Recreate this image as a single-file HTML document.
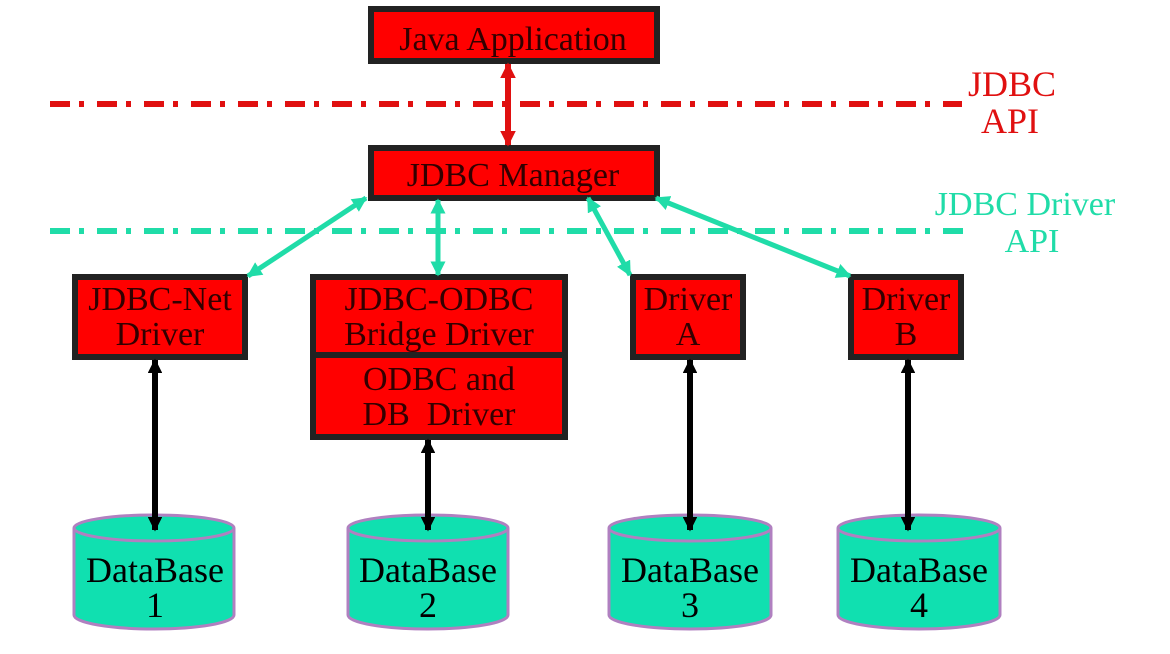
<!DOCTYPE html>
<html><head><meta charset="utf-8"><style>
html,body{margin:0;padding:0;background:#fff;}
svg{display:block;}
</style></head><body>
<svg width="1170" height="654" viewBox="0 0 1170 654" xmlns="http://www.w3.org/2000/svg" font-family="'Liberation Serif', 'DejaVu Serif', 'Times New Roman', serif">
<defs>
<marker id="ar" viewBox="0 0 10 10" refX="9" refY="5" markerWidth="2.6" markerHeight="2.6" orient="auto-start-reverse"><path d="M0,0 L10,5 L0,10 z" fill="#e01010"/></marker>
<marker id="ag" viewBox="0 0 10 10" refX="9" refY="5" markerWidth="3" markerHeight="3" orient="auto-start-reverse"><path d="M0,0 L10,5 L0,10 z" fill="#20dca8"/></marker>
<marker id="ab" viewBox="0 0 10 10" refX="9" refY="5" markerWidth="2.4" markerHeight="2.4" orient="auto-start-reverse"><path d="M0,0 L10,5 L0,10 z" fill="#000"/></marker>
</defs>
<line x1="50" y1="104" x2="962" y2="104" stroke="#e01010" stroke-width="6" stroke-dasharray="20 9 5 13"/>
<line x1="50" y1="231" x2="965" y2="231" stroke="#20dca8" stroke-width="6" stroke-dasharray="20 9 5 13"/>
<text x="1012" y="96" font-size="36" fill="#e01010" text-anchor="middle">JDBC</text>
<text x="1010" y="133" font-size="36" fill="#e01010" text-anchor="middle">API</text>
<text x="1025" y="215" font-size="34" fill="#20dca8" text-anchor="middle">JDBC Driver</text>
<text x="1032" y="252" font-size="34" fill="#20dca8" text-anchor="middle">API</text>
<g fill="#ff0000" stroke="#222" stroke-width="6">
<rect x="371" y="9" width="286" height="52"/>
<rect x="371" y="148" width="286" height="50"/>
<rect x="75" y="277" width="170" height="80"/>
<rect x="313" y="277" width="252" height="160"/>
<rect x="633" y="277" width="110" height="80"/>
<rect x="851" y="277" width="110" height="80"/>
</g>
<line x1="313" y1="355" x2="565" y2="355" stroke="#222" stroke-width="6"/>
<g font-size="34" fill="#300" text-anchor="middle">
<text x="513" y="50">Java Application</text>
<text x="513" y="186">JDBC Manager</text>
<text x="160" y="310">JDBC-Net</text>
<text x="160" y="345">Driver</text>
<text x="439" y="310">JDBC-ODBC</text>
<text x="439" y="345">Bridge Driver</text>
<text x="439" y="390">ODBC and</text>
<text x="439" y="425" xml:space="preserve">DB  Driver</text>
<text x="688" y="310">Driver</text>
<text x="688" y="345">A</text>
<text x="906" y="310">Driver</text>
<text x="906" y="345">B</text>
</g>
<g fill="#10e0b0" stroke="#b080c0" stroke-width="3">
<path d="M74,528 L74,615 A80,14 0 0 0 234,615 L234,528"/><ellipse cx="154" cy="528" rx="80" ry="13"/>
<path d="M348,528 L348,615 A80,14 0 0 0 508,615 L508,528"/><ellipse cx="428" cy="528" rx="80" ry="13"/>
<path d="M609,528 L609,615 A81,14 0 0 0 771,615 L771,528"/><ellipse cx="690" cy="528" rx="81" ry="13"/>
<path d="M838,528 L838,615 A81,14 0 0 0 1000,615 L1000,528"/><ellipse cx="919" cy="528" rx="81" ry="13"/>
</g>
<g font-size="36" fill="#000" text-anchor="middle">
<text x="155" y="582">DataBase</text><text x="155" y="617">1</text>
<text x="428" y="582">DataBase</text><text x="428" y="617">2</text>
<text x="690" y="582">DataBase</text><text x="690" y="617">3</text>
<text x="919" y="582">DataBase</text><text x="919" y="617">4</text>
</g>
<line x1="508" y1="64" x2="508" y2="145" stroke="#e01010" stroke-width="6" marker-start="url(#ar)" marker-end="url(#ar)"/>
<g stroke="#20dca8" stroke-width="5">
<line x1="366" y1="198" x2="248" y2="276" marker-start="url(#ag)" marker-end="url(#ag)"/>
<line x1="438" y1="200" x2="438" y2="275" marker-start="url(#ag)" marker-end="url(#ag)"/>
<line x1="588" y1="198" x2="630" y2="275" marker-start="url(#ag)" marker-end="url(#ag)"/>
<line x1="656" y1="198" x2="850" y2="276" marker-start="url(#ag)" marker-end="url(#ag)"/>
</g>
<g stroke="#000" stroke-width="6">
<line x1="155" y1="360" x2="155" y2="530" marker-start="url(#ab)" marker-end="url(#ab)"/>
<line x1="428" y1="440" x2="428" y2="530" marker-start="url(#ab)" marker-end="url(#ab)"/>
<line x1="690" y1="360" x2="690" y2="530" marker-start="url(#ab)" marker-end="url(#ab)"/>
<line x1="908" y1="360" x2="908" y2="530" marker-start="url(#ab)" marker-end="url(#ab)"/>
</g>
</svg>
</body></html>
